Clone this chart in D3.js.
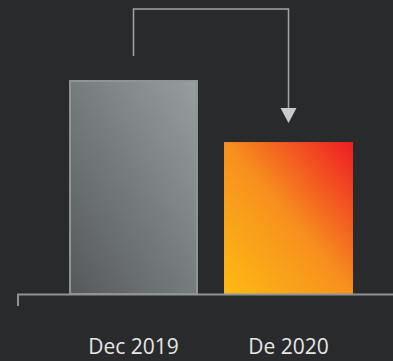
<!DOCTYPE html>
<html><head><meta charset="utf-8">
<script src="https://cdn.jsdelivr.net/npm/d3@7"></script>
<style>html,body{margin:0;padding:0;background:#292a2c;}svg{display:block;}</style>
</head><body>
<script>
const categories = ["Dec 2019", "De 2020"];
const values = [100, 71];
const yDomain = [0, 100];

const W = 393, H = 361;
const svg = d3.select("body").append("svg").attr("width", W).attr("height", H);
const defs = svg.append("defs");
const g1 = defs.append("linearGradient").attr("id","gGrey").attr("x1","0%").attr("y1","100%").attr("x2","100%").attr("y2","0%");
g1.append("stop").attr("offset","0%").attr("stop-color","#55595c");
g1.append("stop").attr("offset","100%").attr("stop-color","#979ea0");
const g2 = defs.append("linearGradient").attr("id","gOrange").attr("x1","0%").attr("y1","100%").attr("x2","100%").attr("y2","0%");
g2.append("stop").attr("offset","0%").attr("stop-color","#fdba13");
g2.append("stop").attr("offset","50%").attr("stop-color","#f7901e");
g2.append("stop").attr("offset","100%").attr("stop-color","#ee1c24");

const x = d3.scaleBand().domain(categories).range([56, 366]).paddingInner(0.168).paddingOuter(0.084);
const y = d3.scaleLinear().domain(yDomain).range([294, 80]);

// bars
svg.selectAll("rect.bar").data(values).join("rect")
  .attr("class","bar")
  .attr("x",(d,i)=> x(categories[i]) + (i===0?1:0))
  .attr("y",(d,i)=> y(d) + (i===0?1:0))
  .attr("width",(d,i)=> x.bandwidth() - (i===0?2:0))
  .attr("height",(d,i)=> y(0) - y(d) - (i===0?1:0))
  .attr("fill",(d,i)=> i===0 ? "url(#gGrey)" : "url(#gOrange)")
  .attr("stroke",(d,i)=> i===0 ? "#8f9597" : "none")
  .attr("stroke-width",2);

// axis line
const axisY = y(0);
svg.append("line").attr("x1",17).attr("x2",W).attr("y1",axisY+0.5).attr("y2",axisY+0.5)
  .attr("stroke","#8e9496").attr("stroke-width",2);
svg.append("line").attr("x1",18).attr("x2",18).attr("y1",axisY).attr("y2",axisY+12)
  .attr("stroke","#8e9496").attr("stroke-width",2);

// labels
svg.selectAll("text.lbl").data(categories).join("text")
  .attr("class","lbl")
  .attr("x",d=> x(d)+x.bandwidth()/2)
  .attr("y",354)
  .attr("text-anchor","middle")
  .attr("font-family","'Open Sans', sans-serif")
  .attr("font-size",21)
  .attr("fill","#e6e6e6")
  .text(d=>d);

// arrow
const cx0 = x(categories[0]) + x.bandwidth()/2;
const cx1 = x(categories[1]) + x.bandwidth()/2;
const topY = 9, tipY = y(values[1]) - 19;
svg.append("path")
  .attr("d", `M${cx0},56 V${topY} H${cx1} V${tipY-14}`)
  .attr("fill","none").attr("stroke","#a2a6a8").attr("stroke-width",1.5);
svg.append("path")
  .attr("d", `M${cx1-8},${tipY-15} L${cx1+8},${tipY-15} L${cx1},${tipY} Z`)
  .attr("fill","#c9cbcc");
</script>
</body></html>
